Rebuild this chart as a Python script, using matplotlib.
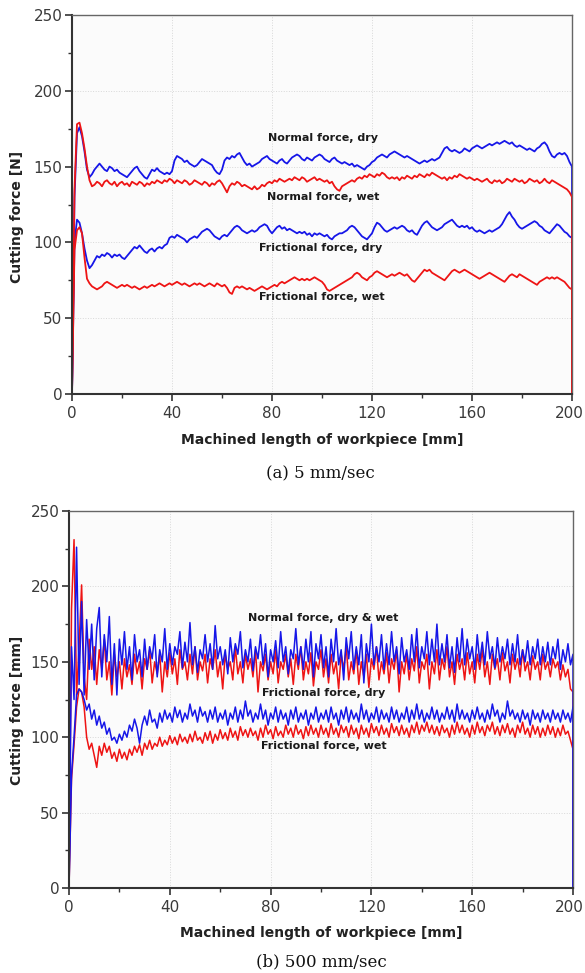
import numpy as np
import matplotlib
matplotlib.use("Agg")
import matplotlib.pyplot as plt
from matplotlib.ticker import MultipleLocator

plt.rcParams['font.family'] = ['DejaVu Sans']

# ---------------- data: (a) 5 mm/sec, sampled every 1 mm, final point = drop to 0 at 200 mm
normal_dry_5 = [0, 130, 172, 176, 170, 160, 148, 143, 145, 148, 150, 152, 150, 148, 147, 150, 149, 147, 148, 146,
                145, 144, 143, 145, 147, 149, 150, 147, 145, 143, 142, 145, 148, 147, 149, 147, 146, 145, 146, 145,
                147, 154, 157, 156, 155, 153, 154, 152, 151, 150, 151, 153, 155, 154, 153, 152, 151, 148, 146, 145,
                148, 154, 156, 155, 157, 156, 158, 159, 156, 153, 151, 152, 150, 151, 152, 153, 155, 156, 157, 155,
                154, 153, 152, 154, 155, 153, 152, 154, 156, 157, 158, 157, 155, 154, 156, 155, 154, 156, 157, 158,
                157, 155, 154, 153, 155, 156, 154, 153, 152, 153, 152, 151, 152, 150, 151, 150, 149, 148, 150, 151,
                153, 154, 156, 157, 158, 157, 156, 158, 159, 160, 159, 158, 157, 156, 157, 156, 155, 154, 153, 152,
                153, 154, 153, 154, 155, 154, 155, 156, 159, 162, 163, 161, 160, 161, 160, 159, 160, 162, 161, 160,
                162, 163, 164, 163, 162, 163, 164, 165, 164, 165, 166, 165, 166, 167, 166, 165, 166, 164, 163, 164,
                163, 162, 161, 162, 161, 160, 162, 163, 165, 166, 164, 160, 157, 156, 158, 159, 158, 159, 157, 153,
                150, 0]
normal_wet_5 = [0, 135, 178, 179, 172, 162, 150, 141, 137, 138, 140, 139, 137, 140, 141, 139, 138, 140, 137, 139,
                140, 138, 139, 137, 140, 139, 138, 140, 139, 137, 139, 138, 140, 139, 141, 140, 139, 141, 140, 142,
                141, 139, 141, 140, 139, 141, 140, 138, 139, 141, 140, 139, 138, 140, 139, 137, 139, 138, 140, 141,
                139, 136, 133, 137, 139, 138, 140, 139, 137, 138, 137, 136, 135, 137, 135, 136, 138, 137, 139, 140,
                139, 141, 140, 142, 141, 140, 141, 142, 141, 143, 142, 141, 143, 142, 140, 141, 142, 143, 141, 142,
                141, 140, 141, 139, 140, 137, 135, 134, 137, 138, 139, 140, 141, 140, 142, 143, 142, 144, 143, 145,
                144, 143, 145, 144, 146, 145, 143, 142, 143, 142, 143, 141, 143, 142, 144, 143, 142, 144, 143, 145,
                144, 143, 145, 144, 146, 145, 144, 143, 142, 143, 141, 143, 142, 144, 143, 145, 144, 143, 142, 143,
                142, 141, 142, 141, 140, 141, 142, 140, 139, 141, 140, 141, 139, 140, 142, 141, 140, 142, 141, 140,
                141, 139, 140, 142, 141, 140, 141, 139, 140, 142, 140, 139, 141, 140, 139, 138, 137, 136, 135, 133,
                130, 0]
friction_dry_5 = [0, 100, 115, 113, 106, 96, 88, 83, 85, 88, 91, 90, 92, 91, 93, 92, 90, 92, 91, 92,
                  90, 89, 91, 93, 95, 97, 96, 98, 96, 94, 93, 95, 96, 94, 96, 97, 96, 98, 99, 103,
                  104, 103, 105, 104, 103, 102, 100, 102, 103, 104, 103, 105, 107, 108, 109, 108, 106, 104, 103, 102,
                  104, 105, 104, 106, 108, 110, 111, 110, 108, 107, 106, 107, 108, 107, 108, 110, 111, 112, 111, 108,
                  106, 108, 110, 111, 109, 110, 108, 109, 108, 107, 106, 107, 106, 107, 105, 106, 104, 106, 105, 106,
                  105, 104, 105, 103, 102, 104, 105, 106, 106, 107, 108, 110, 111, 110, 108, 106, 104, 103, 102, 104,
                  106, 110, 113, 112, 110, 108, 107, 108, 109, 110, 109, 110, 111, 110, 108, 107, 108, 106, 105, 108,
                  111, 113, 114, 112, 110, 109, 108, 109, 110, 112, 113, 114, 115, 113, 111, 110, 111, 110, 111, 109,
                  110, 108, 107, 108, 107, 106, 107, 108, 107, 108, 109, 110, 112, 115, 118, 120, 117, 115, 112, 110,
                  109, 110, 111, 112, 113, 114, 113, 111, 110, 108, 107, 106, 108, 110, 112, 111, 109, 107, 106, 104,
                  103, 0]
friction_wet_5 = [0, 95, 108, 110, 106, 90, 76, 73, 71, 70, 69, 70, 71, 73, 74, 73, 72, 71, 70, 71,
                  72, 71, 72, 71, 70, 71, 70, 69, 70, 71, 70, 71, 72, 71, 72, 73, 72, 71, 72, 73,
                  72, 73, 74, 73, 72, 73, 72, 71, 72, 73, 72, 73, 72, 71, 72, 73, 72, 71, 73, 72,
                  71, 72, 70, 67, 66, 70, 71, 70, 71, 70, 69, 70, 69, 68, 69, 70, 71, 70, 69, 70,
                  71, 72, 71, 73, 74, 73, 74, 75, 76, 77, 76, 75, 76, 75, 76, 75, 76, 77, 76, 75,
                  74, 72, 69, 68, 69, 70, 71, 72, 73, 74, 75, 76, 77, 79, 80, 79, 77, 76, 75, 77,
                  78, 80, 81, 80, 79, 78, 77, 78, 79, 78, 79, 80, 79, 78, 79, 77, 75, 74, 76, 78,
                  80, 82, 81, 82, 80, 79, 78, 77, 76, 75, 77, 79, 81, 82, 81, 80, 81, 82, 81, 80,
                  79, 78, 77, 76, 77, 78, 79, 80, 79, 78, 77, 76, 75, 74, 76, 78, 79, 78, 77, 79,
                  78, 77, 76, 75, 74, 73, 72, 74, 75, 76, 77, 76, 77, 76, 77, 76, 75, 74, 72, 70,
                  69, 0]

# ---------------- data: (b) 500 mm/sec
normal_dry_500 = [0, 160, 125, 226, 135, 190, 128, 178, 145, 175, 138, 172, 186, 140, 168, 150, 180, 135, 162, 128,
                  165, 148, 170, 145, 160, 138, 168, 150, 158, 140, 165, 145, 160, 152, 168, 140, 158, 150, 172, 145,
                  162, 148, 160, 155, 170, 146, 163, 150, 176, 148, 160, 143, 158, 152, 168, 150, 162, 145, 174, 152,
                  160, 148, 158, 142, 166, 150, 162, 155, 170, 146, 158, 150, 165, 144, 160, 152, 168, 148, 162, 140,
                  158, 150, 164, 146, 170, 150, 160, 142, 158, 152, 172, 148, 160, 145, 165, 150, 170, 140, 162, 152,
                  168, 146, 160, 140, 165, 150, 172, 148, 158, 138, 166, 152, 170, 145, 160, 148, 168, 136, 162, 150,
                  175, 148, 160, 150, 168, 145, 162, 148, 170, 150, 160, 142, 166, 150, 158, 145, 168, 150, 172, 146,
                  160, 152, 170, 148, 165, 150, 175, 148, 162, 150, 168, 146, 160, 143, 166, 150, 172, 148, 165, 152,
                  160, 145, 168, 150, 163, 148, 170, 152, 160, 146, 166, 150, 160, 152, 165, 148, 162, 150, 168, 148,
                  158, 150, 164, 148, 160, 152, 165, 148, 160, 150, 163, 148, 160, 152, 165, 145, 158, 150, 162, 148,
                  155, 0]
normal_wet_500 = [0, 185, 231, 128, 160, 201, 140, 125, 165, 145, 160, 135, 158, 145, 165, 138, 150, 128, 155, 140,
                  150, 132, 152, 140, 148, 135, 155, 142, 150, 132, 152, 145, 158, 136, 150, 142, 155, 130, 150, 140,
                  156, 142, 152, 135, 158, 145, 150, 138, 155, 142, 160, 138, 150, 144, 155, 136, 152, 145, 158, 140,
                  150, 132, 155, 145, 150, 138, 160, 142, 150, 136, 155, 145, 152, 140, 158, 130, 150, 144, 155, 138,
                  150, 142, 158, 136, 150, 145, 155, 140, 152, 135, 155, 145, 160, 138, 150, 142, 156, 134, 150, 145,
                  158, 140, 152, 136, 155, 142, 150, 132, 155, 145, 160, 138, 150, 142, 158, 135, 150, 140, 155, 133,
                  152, 145, 160, 138, 150, 142, 156, 136, 152, 145, 158, 130, 150, 142, 155, 138, 152, 144, 160, 136,
                  150, 145, 155, 132, 150, 142, 158, 138, 152, 145, 160, 140, 150, 135, 155, 145, 152, 138, 156, 142,
                  150, 136, 155, 145, 158, 140, 150, 135, 155, 145, 152, 138, 156, 144, 150, 136, 155, 145, 152, 140,
                  158, 144, 150, 138, 154, 145, 150, 138, 155, 145, 150, 140, 152, 146, 150, 138, 148, 140, 145, 132,
                  130, 0]
friction_dry_500 = [0, 75, 100, 128, 132, 130, 125, 118, 122, 112, 118, 108, 114, 106, 110, 102, 106, 98, 100, 96,
                    102, 98, 104, 100, 108, 104, 112, 106, 96, 108, 114, 108, 118, 110, 112, 106, 116, 110, 118, 112,
                    116, 110, 120, 113, 118, 110, 116, 112, 122, 114, 118, 110, 120, 114, 117, 110, 118, 112, 120, 110,
                    116, 112, 118, 108, 116, 112, 120, 110, 118, 112, 124, 114, 118, 110, 116, 112, 122, 112, 118, 108,
                    116, 112, 120, 110, 118, 112, 116, 108, 118, 112, 120, 110, 116, 112, 118, 108, 116, 112, 120, 110,
                    116, 112, 118, 110, 120, 112, 116, 108, 118, 112, 120, 110, 118, 112, 116, 110, 122, 112, 118, 110,
                    116, 112, 120, 110, 118, 112, 116, 110, 120, 112, 118, 110, 116, 112, 120, 110, 118, 112, 122, 112,
                    118, 110, 116, 112, 120, 112, 118, 110, 116, 112, 120, 112, 118, 110, 122, 112, 118, 112, 116, 110,
                    118, 112, 120, 112, 116, 110, 118, 112, 122, 114, 118, 110, 116, 112, 124, 114, 118, 112, 116, 110,
                    118, 112, 116, 108, 118, 112, 116, 110, 118, 112, 116, 110, 118, 112, 116, 110, 118, 112, 116, 110,
                    120, 0]
friction_wet_500 = [0, 72, 95, 120, 132, 130, 120, 100, 92, 96, 88, 80, 94, 88, 96, 90, 94, 86, 90, 84,
                    92, 86, 90, 85, 92, 88, 94, 90, 95, 88, 96, 92, 98, 92, 96, 94, 100, 94, 98, 95,
                    101, 96, 100, 95, 102, 97, 100, 96, 102, 97, 104, 98, 100, 96, 103, 98, 104, 96, 102, 98,
                    105, 99, 103, 98, 106, 100, 104, 98, 107, 101, 105, 100, 106, 101, 104, 98, 106, 100, 108, 102,
                    105, 99, 107, 101, 104, 100, 108, 102, 106, 100, 108, 102, 105, 99, 107, 101, 108, 102, 106, 100,
                    108, 102, 106, 100, 109, 102, 106, 100, 108, 103, 107, 100, 108, 102, 106, 99, 108, 102, 106, 100,
                    109, 103, 107, 101, 108, 102, 106, 100, 109, 103, 107, 101, 108, 102, 106, 100, 108, 103, 110, 102,
                    108, 104, 110, 103, 108, 102, 107, 101, 108, 103, 106, 100, 108, 102, 110, 103, 108, 102, 106, 100,
                    108, 102, 110, 103, 107, 101, 108, 104, 110, 102, 107, 101, 108, 103, 109, 102, 106, 100, 108, 103,
                    110, 102, 106, 100, 108, 102, 107, 100, 106, 101, 108, 102, 107, 100, 106, 101, 108, 102, 104, 98,
                    92, 0]

xticks = [0, 40, 80, 120, 160, 200]
xticklabels = ['0', '40', '80', '120', '160', '200']
yticks = [0, 50, 100, 150, 200, 250]
xlabel = "Machined length of workpiece [mm]"
ylabel_a = "Cutting force [N]"
ylabel_b = "Cutting force [mm]"
caption_a = "(a) 5 mm/sec"
caption_b = "(b) 500 mm/sec"

BLUE = '#1616e8'
RED = '#ee1414'

x = np.append(np.arange(0, 201), 200)

fig = plt.figure(figsize=(5.85, 9.73), dpi=100)
ax1 = fig.add_axes([72/585, 1-394/973, 500/585, 379/973])
ax2 = fig.add_axes([69/585, 1-888/973, 504/585, 377/973])


def style(ax, ylabel, ylab_x, ylab_y, xlab_y, tick_y_px):
    ax.set_xlim(0, 200)
    ax.set_ylim(0, 250)
    ax.set_facecolor('#fbfbfb')
    ax.set_xticks(xticks)
    # last tick label ("200") is drawn separately so that it stays inside the figure
    ax.set_xticklabels(xticklabels[:-1] + [''])
    ax.set_yticks(yticks)
    ax.xaxis.set_minor_locator(MultipleLocator(20))
    ax.yaxis.set_minor_locator(MultipleLocator(25))
    ax.grid(True, which='major', color='#d8d8d8', linestyle=':', linewidth=0.7)
    ax.set_axisbelow(True)
    ax.tick_params(which='major', direction='out', length=5, width=1.2, color='#333333',
                   labelsize=11, labelcolor='#3a3a3a')
    ax.tick_params(axis='y', which='major', pad=2)
    ax.tick_params(axis='x', which='major', pad=4)
    ax.tick_params(which='minor', direction='out', length=3, width=1.0, color='#333333')
    for s in ['left', 'bottom']:
        ax.spines[s].set_color('#333333')
        ax.spines[s].set_linewidth(1.5)
    for s in ['top', 'right']:
        ax.spines[s].set_color('#666666')
        ax.spines[s].set_linewidth(1.0)
    ax.set_xlabel(xlabel, fontsize=10, fontweight='bold', color='#222222', va='center')
    ax.xaxis.set_label_coords(0.5, xlab_y)
    ax.set_ylabel(ylabel, fontsize=10, fontweight='bold', color='#222222', va='center')
    ax.yaxis.set_label_coords(ylab_x, ylab_y)
    fig.text(584/585, 1-tick_y_px/973, xticklabels[-1], ha='right', va='center',
             fontsize=11, color='#3a3a3a')


# (a)
ax1.plot(x, normal_dry_5, color=BLUE, lw=1.3)
ax1.plot(x, friction_dry_5, color=BLUE, lw=1.3)
ax1.plot(x, normal_wet_5, color=RED, lw=1.3)
ax1.plot(x, friction_wet_5, color=RED, lw=1.3)
style(ax1, ylabel_a, -0.11, 0.467, -0.121, 413)
lab = dict(ha='center', va='center', fontsize=8, fontweight='bold', color='#1a1a1a')
ax1.text(100.2, 169, "Normal force, dry", **lab)
ax1.text(100.4, 130, "Normal force, wet", **lab)
ax1.text(99.4, 96.3, "Frictional force, dry", **lab)
ax1.text(100, 64, "Frictional force, wet", **lab)

# (b)
ax2.plot(x, normal_wet_500, color=RED, lw=1.1)
ax2.plot(x, friction_wet_500, color=RED, lw=1.1)
ax2.plot(x, normal_dry_500, color=BLUE, lw=1.1)
ax2.plot(x, friction_dry_500, color=BLUE, lw=1.1)
style(ax2, ylabel_b, -0.103, 0.472, -0.119, 907)
ax2.text(100.8, 179, "Normal force, dry & wet", **lab)
ax2.text(101, 129, "Frictional force, dry", **lab)
ax2.text(101, 94.4, "Frictional force, wet", **lab)

fig.text(320/585, 1-474/973, caption_a, ha='center', va='center', fontsize=12,
         family='DejaVu Serif', color='#111111')
fig.text(321/585, 1-962/973, caption_b, ha='center', va='center', fontsize=12,
         family='DejaVu Serif', color='#111111')

fig.savefig('out.png', dpi=100)
